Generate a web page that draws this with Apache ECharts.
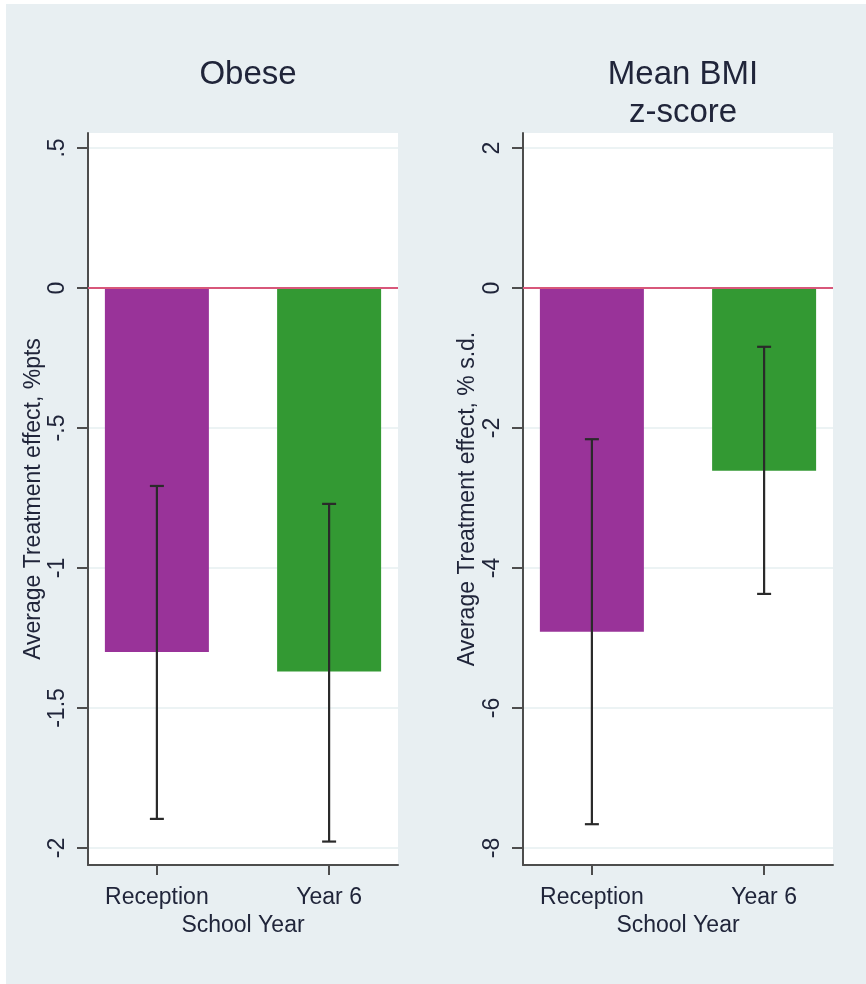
<!DOCTYPE html>
<html>
<head>
<meta charset="utf-8">
<script src="https://cdn.jsdelivr.net/npm/echarts@6/dist/echarts.min.js"></script>
<style>
html,body{margin:0;padding:0;background:#fff;}
#chart{width:866px;height:984px;}
</style>
</head>
<body>
<div id="chart"></div>
<script>
// ---- data ----
const categories = ['Reception', 'Year 6'];
const barColors = ['#993399', '#339933'];

const obeseValues = [-1.30, -1.37];
const obeseLow = [-1.896, -1.977];
const obeseHigh = [-0.707, -0.771];

const bmiValues = [-4.91, -2.61];
const bmiLow = [-7.66, -4.37];
const bmiHigh = [-2.16, -0.84];

const obeseTicks = [0.5, 0, -0.5, -1, -1.5, -2];
const bmiTicks = [2, 0, -2, -4, -6, -8];

const panelTitles = ['Obese', 'Mean BMI\nz-score'];
const yNames = ['Average Treatment effect, %pts', 'Average Treatment effect, % s.d.'];
const xName = 'School Year';

// ---- styles ----
const FONT = 'Liberation Sans, Arial, sans-serif';
const TXT = '#20253a';
const AXIS = '#4d4d4d';

const positions = categories.map((c, i) => i + 1);

function fmtTick(v) {
  return String(v).replace(/^(-?)0\./, '$1.');
}

function barData(vals) {
  return vals.map((v, i) => ({ value: [positions[i], v], itemStyle: { color: barColors[i] } }));
}
function errData(lo, hi) {
  return lo.map((l, i) => [positions[i], l, hi[i]]);
}

function errSeries(idx, lo, hi) {
  return {
    type: 'custom',
    xAxisIndex: idx, yAxisIndex: idx,
    z: 5,
    silent: true,
    data: errData(lo, hi),
    renderItem: function (params, api) {
      const x = api.value(0);
      const a = api.coord([x, api.value(1)]);
      const b = api.coord([x, api.value(2)]);
      const w = 7;
      const st = { stroke: '#2a2a2a', lineWidth: 2.2 };
      return {
        type: 'group',
        children: [
          { type: 'line', shape: { x1: a[0], y1: a[1], x2: b[0], y2: b[1] }, style: st },
          { type: 'line', shape: { x1: a[0] - w, y1: a[1], x2: a[0] + w, y2: a[1] }, style: st },
          { type: 'line', shape: { x1: b[0] - w, y1: b[1], x2: b[0] + w, y2: b[1] }, style: st }
        ]
      };
    }
  };
}

function barSeries(idx, vals) {
  return {
    type: 'bar',
    xAxisIndex: idx, yAxisIndex: idx,
    barWidth: 104,
    z: 3,
    silent: true,
    data: barData(vals),
    markLine: {
      silent: true,
      symbol: 'none',
      label: { show: false },
      lineStyle: { color: '#d8577a', width: 2.2, type: 'solid' },
      data: [{ yAxis: 0 }]
    }
  };
}

function xAxisDef(idx) {
  return {
    type: 'value', gridIndex: idx,
    min: 0.6, max: 2.4,
    name: xName, nameLocation: 'middle', nameGap: 47,
    nameTextStyle: { fontFamily: FONT, fontSize: 23, color: TXT },
    axisLine: { show: true, onZero: false, lineStyle: { color: AXIS, width: 2 } },
    axisTick: { show: true, customValues: positions, length: 10, lineStyle: { color: AXIS, width: 2 } },
    axisLabel: {
      customValues: positions, margin: 21,
      formatter: v => categories[Math.round(v) - 1] || '',
      fontFamily: FONT, fontSize: 23, color: TXT
    },
    splitLine: { show: false }
  };
}

function yAxisDef(idx, ticks, min, max, gap) {
  return {
    type: 'value', gridIndex: idx,
    min: min, max: max,
    name: yNames[idx], nameLocation: 'middle', nameGap: gap, nameRotate: 90,
    nameTextStyle: { fontFamily: FONT, fontSize: 23, color: TXT },
    axisLine: { show: true, onZero: false, lineStyle: { color: AXIS, width: 2 } },
    axisTick: { show: true, customValues: ticks, length: 11, lineStyle: { color: AXIS, width: 2 } },
    axisLabel: {
      customValues: ticks, rotate: 90, margin: 19,
      formatter: fmtTick,
      fontFamily: FONT, fontSize: 23, color: TXT
    },
    splitLine: { show: true, lineStyle: { color: '#e6eff1', width: 1.5 } }
  };
}

const option = {
  backgroundColor: '#e8eff2',
  animation: false,
  graphic: [
    { type: 'rect', shape: { x: 0, y: 0, width: 866, height: 4 }, style: { fill: '#ffffff' }, silent: true },
    { type: 'rect', shape: { x: 0, y: 0, width: 6, height: 984 }, style: { fill: '#ffffff' }, silent: true }
  ],
  title: [
    { text: panelTitles[0], left: 243, top: 51, textAlign: 'center',
      textStyle: { fontFamily: FONT, fontSize: 33, fontWeight: 'normal', color: TXT, lineHeight: 38 } },
    { text: panelTitles[1], left: 678, top: 51, textAlign: 'center',
      textStyle: { fontFamily: FONT, fontSize: 33, fontWeight: 'normal', color: TXT, lineHeight: 38 } }
  ],
  grid: [
    { left: 88, top: 133, width: 310, height: 732, show: true, backgroundColor: '#ffffff', borderWidth: 0 },
    { left: 523, top: 133, width: 310, height: 732, show: true, backgroundColor: '#ffffff', borderWidth: 0 }
  ],
  xAxis: [xAxisDef(0), xAxisDef(1)],
  yAxis: [
    yAxisDef(0, obeseTicks, -577 / 280, 155 / 280, 42),
    yAxisDef(1, bmiTicks, -577 / 70, 155 / 70, 44)
  ],
  series: [
    barSeries(0, obeseValues),
    errSeries(0, obeseLow, obeseHigh),
    barSeries(1, bmiValues),
    errSeries(1, bmiLow, bmiHigh)
  ]
};

const chart = echarts.init(document.getElementById('chart'), null, { renderer: 'canvas' });
chart.setOption(option);
</script>
</body>
</html>
